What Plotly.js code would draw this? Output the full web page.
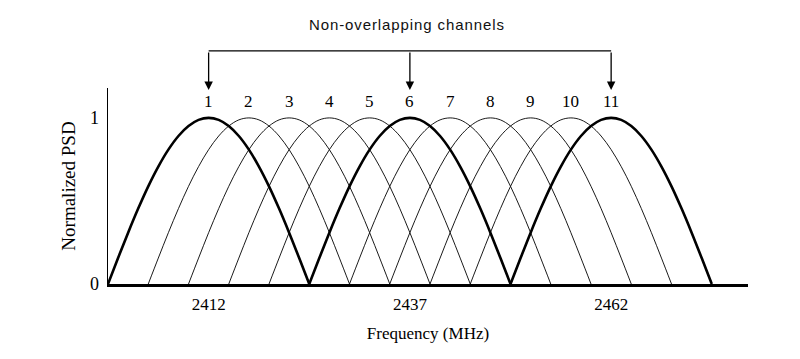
<!DOCTYPE html>
<html>
<head>
<meta charset="utf-8">
<script src="https://cdn.plot.ly/plotly-3.0.1.min.js"></script>
<style>
html,body{margin:0;padding:0;background:#fff;}
#chart{width:800px;height:359px;}
#chart .gtitle{letter-spacing:0.9px;}
</style>
</head>
<body>
<div id="chart"></div>
<script>
// Channel numbers and centre frequencies (MHz)
const channels = [1, 2, 3, 4, 5, 6, 7, 8, 9, 10, 11];
const centers = [2412, 2417, 2422, 2427, 2432, 2437, 2442, 2447, 2452, 2457, 2462];
const nonOverlapping = [1, 6, 11];
// Spectral mask profile: offset from centre (MHz) -> normalized PSD
const profileOffsets = [-12.5, -11.25, -10, -8.75, -7.5, -6.25, -5, -3.75, -2.5, -1.25, 0,
                        1.25, 2.5, 3.75, 5, 6.25, 7.5, 8.75, 10, 11.25, 12.5];
const profileValues = [0, 0.156, 0.309, 0.454, 0.588, 0.707, 0.809, 0.891, 0.951, 0.988, 1,
                       0.988, 0.951, 0.891, 0.809, 0.707, 0.588, 0.454, 0.309, 0.156, 0];
const xTicks = [2412, 2437, 2462];
const yTicks = [0, 1];

const serif = '"Liberation Serif", "Times New Roman", serif';
const sans = '"Liberation Sans", Arial, sans-serif';

const traces = channels.map((ch, i) => {
  const bold = nonOverlapping.includes(ch);
  return {
    type: 'scatter', mode: 'lines', name: 'Channel ' + ch,
    x: profileOffsets.map(o => centers[i] + o),
    y: profileValues,
    line: {color: '#000', width: bold ? 2.6 : 0.9, shape: 'spline', smoothing: 1},
    hoverinfo: 'x+y+name', showlegend: false
  };
});

const annotations = channels.map((ch, i) => ({
  x: centers[i], xref: 'x', y: 1.10, yref: 'y',
  text: String(ch), showarrow: false,
  font: {family: serif, size: 17, color: '#000'},
  xanchor: 'center', yanchor: 'middle'
}));

nonOverlapping.forEach(ch => {
  const i = channels.indexOf(ch);
  annotations.push({
    x: centers[i], xref: 'x', y: 0.99, yref: 'paper',
    ax: 0, ay: -39, axref: 'pixel', ayref: 'pixel',
    text: '', showarrow: true, arrowhead: 2, arrowsize: 1.3, arrowwidth: 1.3,
    arrowcolor: '#000', standoff: 0, startstandoff: 0
  });
});

const first = centers[channels.indexOf(nonOverlapping[0])];
const last = centers[channels.indexOf(nonOverlapping[nonOverlapping.length - 1])];

const layout = {
  width: 800, height: 359,
  margin: {l: 108, r: 52, t: 88, b: 75},
  paper_bgcolor: '#fff', plot_bgcolor: '#fff',
  title: {
    text: 'Non-overlapping channels',
    font: {family: sans, size: 15, color: '#111'},
    x: 0.467, xref: 'paper', xanchor: 'center',
    y: 0.93, yref: 'container', yanchor: 'middle'
  },
  xaxis: {
    range: [2399.5, 2479], showgrid: false, zeroline: false,
    showline: true, linecolor: '#000', linewidth: 2.5,
    tickvals: xTicks, ticktext: xTicks.map(String),
    ticks: 'outside', ticklen: 3, tickcolor: 'rgba(0,0,0,0)',
    tickfont: {family: serif, size: 17, color: '#000'},
    title: {text: 'Frequency (MHz)', font: {family: serif, size: 17, color: '#000'}, standoff: 14}
  },
  yaxis: {
    range: [0, 1.18], showgrid: false, zeroline: false,
    showline: true, linecolor: '#000', linewidth: 1.5,
    tickvals: yTicks, ticktext: yTicks.map(String),
    ticks: 'outside', ticklen: 4, tickcolor: 'rgba(0,0,0,0)',
    tickfont: {family: serif, size: 18, color: '#000'},
    title: {text: 'Normalized PSD', font: {family: serif, size: 19, color: '#000'}, standoff: 9}
  },
  shapes: [{
    type: 'line', xref: 'x', yref: 'paper',
    x0: first, x1: last, y0: 1.189, y1: 1.189,
    line: {color: '#000', width: 1.3}
  }],
  annotations: annotations
};

Plotly.newPlot('chart', traces, layout, {displayModeBar: false, staticPlot: true});
</script>
</body>
</html>
